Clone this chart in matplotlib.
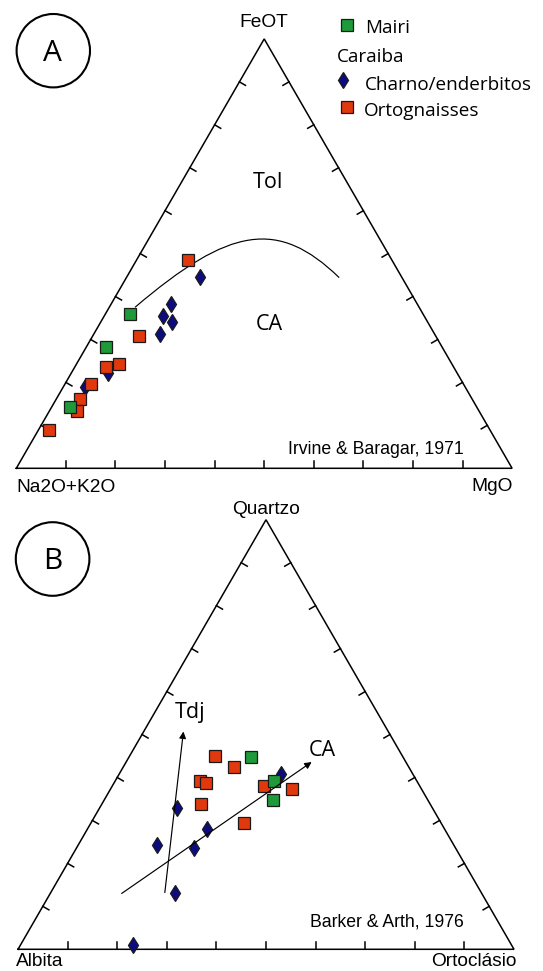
import numpy as np
import matplotlib
matplotlib.use('Agg')
import matplotlib.pyplot as plt
from matplotlib.path import Path
from matplotlib.patches import PathPatch, Circle

# compositions in %
# diagram A: Na2O+K2O (left), MgO (right), FeOT (top)
ortA_alk = [41.2, 59.8, 67.2, 70.2, 75.1, 79.1, 81.1, 88.9]
ortA_mgo = [10.4, 9.4, 8.6, 6.3, 5.3, 4.8, 5.5, 2.2]
ortA_feo = [48.4, 30.8, 24.2, 23.5, 19.6, 16.1, 13.4, 8.9]

maiA_alk = [59.1, 67.8, 82.1]
maiA_mgo = [5.0, 4.0, 3.7]
maiA_feo = [35.9, 28.2, 14.2]

chaA_alk = [40.7, 49.7, 52.8, 51.6, 55.4, 70.4, 76.7]
chaA_mgo = [14.7, 12.1, 11.8, 14.4, 13.3, 7.3, 4.4]
chaA_feo = [44.6, 38.2, 35.4, 34.0, 31.3, 22.3, 18.9]

# Tol / CA boundary (cubic bezier: start, ctrl, ctrl, end)
bndA_alk = [57.3, 28.8, 18.1, 12.7]
bndA_mgo = [5.2, 14.9, 23.7, 43.0]
bndA_feo = [37.5, 56.3, 58.2, 44.5]

# diagram B: Albita (left), Ortoclasio (right), Quartzo (top)
ortB_ab = [37.7, 35.2, 43.7, 42.7, 46.2, 39.6, 31.4, 26.0]
ortB_or = [17.2, 22.3, 17.1, 18.5, 20.0, 30.9, 30.6, 36.6]
ortB_qz = [45.1, 42.5, 39.2, 38.8, 33.8, 29.5, 38.0, 37.4]

maiB_ab = [30.7, 28.7, 31.2]
maiB_or = [24.6, 32.1, 34.0]
maiB_qz = [44.7, 39.2, 34.8]

chaB_ab = [26.6, 51.5, 47.9, 59.9, 52.8, 61.9, 76.2]
chaB_or = [32.6, 15.6, 24.2, 15.8, 23.6, 25.1, 22.7]
chaB_qz = [40.8, 32.9, 27.9, 24.3, 23.6, 13.0, 1.1]

# trend arrows (start, end)
tdj_ab = [63.8, 41.3]
tdj_or = [23.0, 8.0]
tdj_qz = [13.2, 50.7]
ca_ab = [72.6, 19.0]
ca_or = [14.4, 37.4]
ca_qz = [13.0, 43.6]

GREEN = '#1e9a3a'
ORANGE = '#e2380e'
NAVY = '#0c0c80'
H = np.sqrt(3) / 2


def tern(left, right, top, origin, side):
    l = np.asarray(left, float)
    r = np.asarray(right, float)
    t = np.asarray(top, float)
    s = l + r + t
    r, t = r / s, t / s
    x = origin[0] + side * (r + t / 2)
    y = origin[1] - side * H * t
    return x, y


def triangle(ax, origin, side):
    x0, y0 = origin
    xs = [x0, x0 + side, x0 + side / 2, x0]
    ys = [y0, y0, y0 - side * H, y0]
    ax.plot(xs, ys, color='k', lw=1.1, solid_joinstyle='miter')
    tl = 7
    for f in np.arange(1, 10) / 10.:
        # base
        bx = x0 + f * side
        ax.plot([bx, bx], [y0, y0 - tl], color='k', lw=1.1)
        # left side
        lx, ly = x0 + f * side / 2, y0 - f * side * H
        ax.plot([lx, lx + tl * H], [ly, ly + tl / 2], color='k', lw=1.1)
        # right side
        rx, ry = x0 + side - f * side / 2, y0 - f * side * H
        ax.plot([rx, rx - tl * H], [ry, ry + tl / 2], color='k', lw=1.1)


def points(ax, a, b, c, origin, side, marker, color, ms):
    x, y = tern(a, b, c, origin, side)
    ax.plot(x, y, marker, ms=ms, mfc=color, mec='#1a1a1a', mew=0.9, ls='none')


fig = plt.figure(figsize=(5.43, 9.71), dpi=100)
ax = fig.add_axes([0, 0, 1, 1])
ax.set_xlim(0, 543)
ax.set_ylim(971, 0)
ax.axis('off')

arial = 'Liberation Sans'
myriad = 'Open Sans'

# ---------------- A ----------------
oA, sA = (16.3, 468.3), 495.8
triangle(ax, oA, sA)
bx, by = tern(bndA_alk, bndA_mgo, bndA_feo, oA, sA)
path = Path(list(zip(bx, by)), [Path.MOVETO, Path.CURVE4, Path.CURVE4, Path.CURVE4])
ax.add_patch(PathPatch(path, fc='none', ec='k', lw=0.85))

points(ax, chaA_alk, chaA_mgo, chaA_feo, oA, sA, 'd', NAVY, 8.6)
points(ax, ortA_alk, ortA_mgo, ortA_feo, oA, sA, 's', ORANGE, 8.6)
points(ax, maiA_alk, maiA_mgo, maiA_feo, oA, sA, 's', GREEN, 8.6)

ax.text(264.2, 26.7, 'FeOT', family=arial, fontsize=13.8, ha='center', va='baseline')
ax.text(16, 491.7, 'Na2O+K2O', family=arial, fontsize=13.8, ha='left', va='baseline')
ax.text(513, 491.3, 'MgO', family=arial, fontsize=13.8, ha='right', va='baseline')
ax.text(464, 454.3, 'Irvine & Baragar, 1971', family=arial, fontsize=12.7, ha='right', va='baseline')
ax.text(267.7, 188.3, 'Tol', family=myriad, fontsize=15.5, ha='center', va='baseline')
ax.text(269, 330, 'CA', family=myriad, fontsize=15.5, ha='center', va='baseline')

ax.add_patch(Circle((53.3, 50.7), 36.7, fill=False, ec='k', lw=1.5))
ax.text(52.8, 61, 'A', family=myriad, fontsize=21.5, ha='center', va='baseline')

# legend
ax.plot(346.7, 25, 's', ms=8.6, mfc=GREEN, mec='#1a1a1a', mew=0.9)
ax.plot(343.3, 80, 'd', ms=8.6, mfc=NAVY, mec='#1a1a1a', mew=0.9)
ax.plot(347.3, 106.7, 's', ms=8.6, mfc=ORANGE, mec='#1a1a1a', mew=0.9)
ax.text(365, 33.3, 'Mairi', family=myriad, fontsize=13.6, va='baseline')
ax.text(337.3, 61.7, 'Caraiba', family=myriad, fontsize=13.6, va='baseline')
ax.text(365, 90, 'Charno/enderbitos', family=myriad, fontsize=13.6, va='baseline')
ax.text(364, 116, 'Ortognaisses', family=myriad, fontsize=13.6, va='baseline')

# ---------------- B ----------------
oB, sB = (18, 949.3), 496
triangle(ax, oB, sB)

for a, b, c in [(tdj_ab, tdj_or, tdj_qz), (ca_ab, ca_or, ca_qz)]:
    x, y = tern(a, b, c, oB, sB)
    ax.annotate('', xy=(x[1], y[1]), xytext=(x[0], y[0]),
                arrowprops=dict(arrowstyle='-|>', lw=0.85, color='k',
                                mutation_scale=10, shrinkA=0, shrinkB=0))

points(ax, chaB_ab, chaB_or, chaB_qz, oB, sB, 'd', NAVY, 8.6)
points(ax, ortB_ab, ortB_or, ortB_qz, oB, sB, 's', ORANGE, 8.6)
points(ax, maiB_ab, maiB_or, maiB_qz, oB, sB, 's', GREEN, 8.6)

ax.text(266, 514.5, 'Quartzo', family=arial, fontsize=13.8, ha='center', va='baseline')
ax.text(15.6, 966, 'Albita', family=arial, fontsize=13.8, ha='left', va='baseline')
ax.text(517, 966, 'Ortoclásio', family=arial, fontsize=13.8, ha='right', va='baseline')
ax.text(464, 926.5, 'Barker & Arth, 1976', family=arial, fontsize=12.7, ha='right', va='baseline')
ax.text(175, 718.3, 'Tdj', family=myriad, fontsize=15.5, ha='left', va='baseline')
ax.text(309.2, 755.7, 'CA', family=myriad, fontsize=15.5, ha='left', va='baseline')

ax.add_patch(Circle((52.6, 559), 36.8, fill=False, ec='k', lw=1.5))
ax.text(52.3, 569.3, 'B', family=myriad, fontsize=21.5, ha='center', va='baseline')

fig.savefig('out.png', dpi=100)
